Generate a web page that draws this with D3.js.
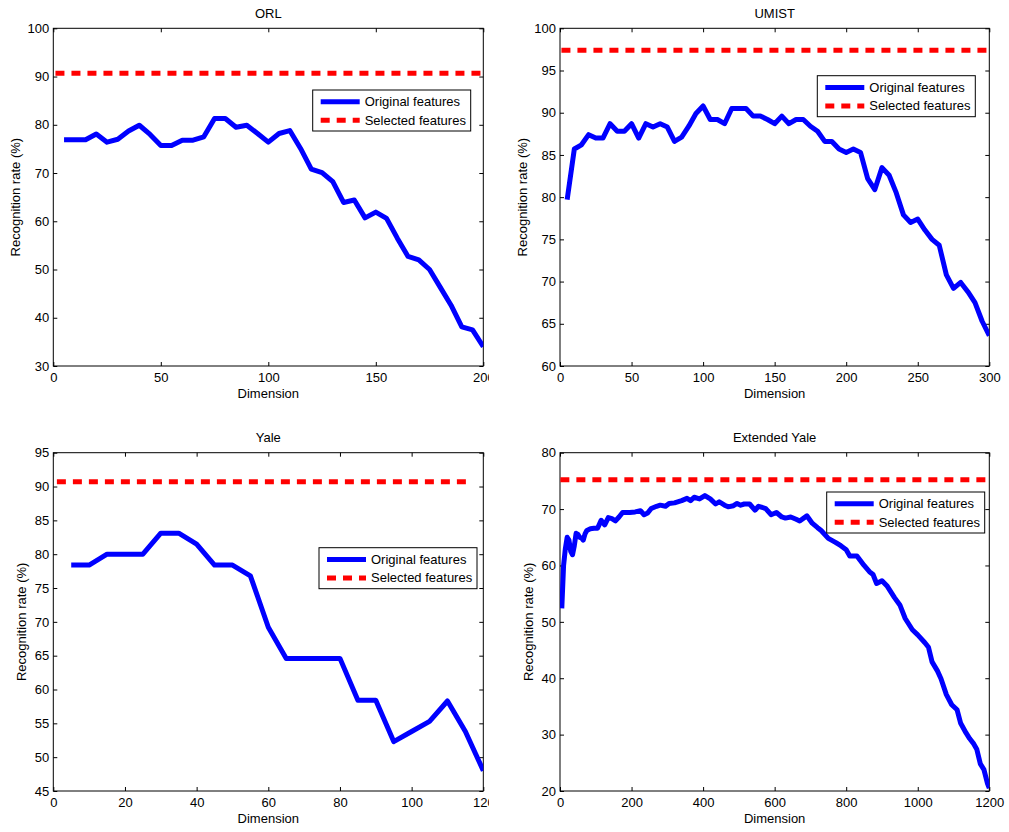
<!DOCTYPE html>
<html>
<head>
<meta charset="utf-8">
<script src="https://cdn.jsdelivr.net/npm/d3@7"></script>
<style>
  body { margin: 0; background: #fff; }
  svg { font-family: "Liberation Sans", Arial, Helvetica, sans-serif; }
  .tick text { font-size: 13px; fill: #000; }
</style>
</head>
<body>
<div id="chart"></div>
<script>
// legend labels
var seriesNames = ["Original features", "Selected features"];

// ORL
var orlDims = d3.range(5, 201, 5);
var orlOriginal = [76.9, 76.9, 76.9, 78.1, 76.4, 77.0, 78.7, 79.9, 78.0, 75.7,
                   75.7, 76.8, 76.8, 77.5, 81.3, 81.3, 79.5, 79.9, 78.2, 76.4,
                   78.2, 78.8, 75.1, 70.8, 70.1, 68.2, 63.9, 64.4, 60.7, 61.9,
                   60.6, 56.5, 52.7, 52.0, 50.0, 46.3, 42.6, 38.1, 37.5, 34.0];
var orlSelected = 90.7;

// UMIST
var umistDims = d3.range(5, 301, 5);
var umistOriginal = [79.7, 85.7, 86.2, 87.4, 87.0, 87.0, 88.7, 87.8, 87.8, 88.7,
                     87.0, 88.7, 88.3, 88.7, 88.3, 86.6, 87.1, 88.4, 89.9, 90.8,
                     89.2, 89.2, 88.7, 90.5, 90.5, 90.5, 89.6, 89.6, 89.2, 88.7,
                     89.6, 88.7, 89.2, 89.2, 88.4, 87.8, 86.6, 86.6, 85.7, 85.3,
                     85.7, 85.3, 82.2, 80.9, 83.5, 82.6, 80.5, 77.9, 77.0, 77.4,
                     76.1, 75.0, 74.3, 70.8, 69.2, 69.9, 68.8, 67.5, 65.3, 63.6];
var umistSelected = 97.4;

// Yale
var yaleDims = d3.range(5, 121, 5);
var yaleOriginal = [78.4, 78.4, 80.0, 80.0, 80.0, 83.1, 83.1, 81.5, 78.4, 78.4,
                    76.8, 69.2, 64.6, 64.6, 64.6, 64.6, 58.4, 58.4, 52.3, 53.8,
                    55.3, 58.3, 53.8, 48.0];
var yaleSelected = 90.7;

// Extended Yale
var extDims = [5, 10, 15, 20, 25, 30, 35, 40, 45, 50, 55, 60, 65, 70, 75, 85, 95, 105, 115, 125,
               135, 145, 155, 165, 175, 195, 210, 225, 235, 245, 255, 270, 280, 295, 305, 320, 340, 355, 365, 375,
               390, 405, 420, 435, 445, 460, 470, 485, 495, 505, 515, 530, 545, 555, 575, 590, 605, 620, 630, 645,
               660, 670, 690, 705, 720, 730, 750, 770, 785, 800, 810, 830, 850, 865, 875, 885, 900, 915, 935, 950,
               965, 985, 1000, 1020, 1030, 1040, 1055, 1065, 1080, 1095, 1110, 1120, 1135, 1145, 1155, 1165, 1175, 1185, 1195, 1200];
var extOriginal = [52.4, 60.0, 63.0, 65.0, 64.5, 62.5, 61.9, 63.5, 65.7, 65.5, 65.0, 64.9, 64.5, 65.6, 66.2, 66.5, 66.6, 66.6, 68.0, 67.2,
                   68.5, 68.3, 67.9, 68.6, 69.4, 69.4, 69.5, 69.7, 69.0, 69.3, 70.1, 70.5, 70.7, 70.5, 71.0, 71.1, 71.5, 71.9, 71.5, 72.1,
                   71.8, 72.4, 71.8, 70.9, 71.3, 70.7, 70.4, 70.6, 71.0, 70.7, 70.9, 70.9, 69.8, 70.5, 70.1, 69.0, 69.4, 68.6, 68.4, 68.6,
                   68.2, 67.9, 68.8, 67.5, 66.7, 66.2, 64.8, 64.1, 63.5, 62.8, 61.7, 61.7, 60.0, 58.9, 58.4, 56.8, 57.3, 56.3, 54.3, 53.0,
                   50.6, 48.6, 47.7, 46.3, 45.5, 42.9, 41.3, 39.9, 37.1, 35.3, 34.4, 32.0, 30.3, 29.3, 28.5, 27.4, 24.8, 23.8, 21.3, 20.5];
var extSelected = 75.2;

// tick values
var orlXTicks = [0, 50, 100, 150, 200], orlYTicks = [30, 40, 50, 60, 70, 80, 90, 100];
var umistXTicks = [0, 50, 100, 150, 200, 250, 300], umistYTicks = [60, 65, 70, 75, 80, 85, 90, 95, 100];
var yaleXTicks = [0, 20, 40, 60, 80, 100, 120], yaleYTicks = [45, 50, 55, 60, 65, 70, 75, 80, 85, 90, 95];
var extXTicks = [0, 200, 400, 600, 800, 1000, 1200], extYTicks = [20, 30, 40, 50, 60, 70, 80];

var W = 1009, H = 832;
var svg = d3.select("#chart").append("svg").attr("width", W).attr("height", H);

// left column is cut off at the right edge like the source image
svg.append("clipPath").attr("id", "leftcut")
  .append("rect").attr("x", 0).attr("y", 0).attr("width", 489).attr("height", H);

var panels = [
  {id: "orl", title: "ORL", dims: orlDims, vals: orlOriginal, sel: orlSelected, selRange: [1, 200],
   xd: [0, 200], yd: [30, 100], xt: orlXTicks, yt: orlYTicks,
   box: [53.3, 28.3, 483.3, 366], legend: [312.7, 90], ylabGap: 38, cut: true},
  {id: "umist", title: "UMIST", dims: umistDims, vals: umistOriginal, sel: umistSelected, selRange: [1, 300],
   xd: [0, 300], yd: [60, 100], xt: umistXTicks, yt: umistYTicks,
   box: [560, 28.3, 989.3, 366], legend: [817.3, 75.7], ylabGap: 38, cut: false},
  {id: "yale", title: "Yale", dims: yaleDims, vals: yaleOriginal, sel: yaleSelected, selRange: [1, 117],
   xd: [0, 120], yd: [45, 95], xt: yaleXTicks, yt: yaleYTicks,
   box: [53.3, 452.7, 483.3, 791], legend: [319, 547.7], ylabGap: 31.5, cut: true},
  {id: "ext", title: "Extended Yale", dims: extDims, vals: extOriginal, sel: extSelected, selRange: [1, 1200],
   xd: [0, 1200], yd: [20, 80], xt: extXTicks, yt: extYTicks,
   box: [560, 452.7, 989.3, 791], legend: [826.7, 492], ylabGap: 32, cut: false}
];

var drawPanel = function drawPanel(p) {
  var x0 = p.box[0], y0 = p.box[1], x1 = p.box[2], y1 = p.box[3];
  var x = d3.scaleLinear().domain(p.xd).range([x0, x1]);
  var y = d3.scaleLinear().domain(p.yd).range([y1, y0]);

  var g = svg.append("g");
  if (p.cut) g.attr("clip-path", "url(#leftcut)");

  g.append("clipPath").attr("id", "plot-" + p.id)
    .append("rect").attr("x", x0).attr("y", y0).attr("width", x1 - x0).attr("height", y1 - y0);

  // axes with inward ticks on all sides
  g.append("g").attr("transform", "translate(0," + y1 + ")")
    .call(d3.axisBottom(x).tickValues(p.xt).tickSize(-4).tickPadding(7).tickFormat(d3.format("d")));
  g.append("g").attr("transform", "translate(0," + y0 + ")")
    .call(d3.axisTop(x).tickValues(p.xt).tickSize(-4).tickFormat(""));
  g.append("g").attr("transform", "translate(" + x0 + ",0)")
    .call(d3.axisLeft(y).tickValues(p.yt).tickSize(-4).tickPadding(4).tickFormat(d3.format("d")));
  g.append("g").attr("transform", "translate(" + x1 + ",0)")
    .call(d3.axisRight(y).tickValues(p.yt).tickSize(-4).tickFormat(""));
  g.selectAll(".domain").remove();
  g.selectAll(".tick line").attr("stroke", "#000");

  g.append("rect").attr("x", x0).attr("y", y0).attr("width", x1 - x0).attr("height", y1 - y0)
    .attr("fill", "none").attr("stroke", "#000").attr("stroke-width", 1);

  // data
  var plot = g.append("g").attr("clip-path", "url(#plot-" + p.id + ")");
  var line = d3.line().x(function(d) { return x(d[0]); }).y(function(d) { return y(d[1]); });

  plot.append("path")
    .datum(p.selRange.map(function(d) { return [d, p.sel]; }))
    .attr("d", line).attr("fill", "none")
    .attr("stroke", "#ff0000").attr("stroke-width", 5).attr("stroke-dasharray", "9,7");

  plot.append("path")
    .datum(p.dims.map(function(d, i) { return [d, p.vals[i]]; }))
    .attr("d", line).attr("fill", "none")
    .attr("stroke", "#0000ff").attr("stroke-width", 5).attr("stroke-linejoin", "round");

  // labels
  g.append("text").attr("x", (x0 + x1) / 2).attr("y", y0 - 15).attr("dy", "0.35em")
    .attr("text-anchor", "middle").attr("font-size", 13).text(p.title);
  g.append("text").attr("x", (x0 + x1) / 2).attr("y", y1 + 27).attr("dy", "0.35em")
    .attr("text-anchor", "middle").attr("font-size", 13).text("Dimension");
  g.append("text")
    .attr("transform", "translate(" + (x0 - p.ylabGap) + "," + ((y0 + y1) / 2) + ")rotate(-90)")
    .attr("dy", "0.35em").attr("text-anchor", "middle").attr("font-size", 13)
    .text("Recognition rate (%)");

  // legend
  var lg = g.append("g").attr("transform", "translate(" + p.legend[0] + "," + p.legend[1] + ")");
  lg.append("rect").attr("width", 158).attr("height", 41)
    .attr("fill", "#fff").attr("stroke", "#000").attr("stroke-width", 1);
  seriesNames.forEach(function(name, i) {
    var ly = 11.7 + i * 18.5;
    lg.append("line").attr("x1", 8).attr("x2", 47).attr("y1", ly).attr("y2", ly)
      .attr("stroke", i == 0 ? "#0000ff" : "#ff0000").attr("stroke-width", 5)
      .attr("stroke-dasharray", i == 0 ? null : "9,7");
    lg.append("text").attr("x", 52).attr("y", ly).attr("dy", "0.35em")
      .attr("font-size", 13).text(name);
  });
};

panels.forEach(drawPanel);
</script>
</body>
</html>
